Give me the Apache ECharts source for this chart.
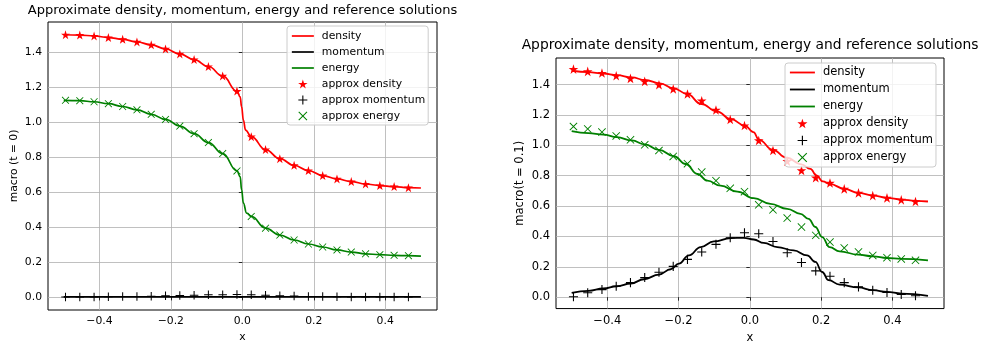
<!DOCTYPE html>
<html><head><meta charset="utf-8">
<script src="https://cdn.jsdelivr.net/npm/echarts@6/dist/echarts.min.js"></script>
<style>html,body{margin:0;padding:0;background:#fff}#c{width:986px;height:349px}</style>
</head><body><div id="c"></div>
<script>
// ---------- data ----------
const titleText = 'Approximate density, momentum, energy and reference solutions';
const xTicks = [-0.4, -0.2, 0.0, 0.2, 0.4];
const yTicks = [0.0, 0.2, 0.4, 0.6, 0.8, 1.0, 1.2, 1.4];
const legendNames = ['density', 'momentum', 'energy', 'approx density', 'approx momentum', 'approx energy'];

// marker positions (both panels)
const markerX = [-0.495,-0.455,-0.415,-0.375,-0.335,-0.295,-0.255,-0.215,-0.175,-0.135,-0.095,-0.055,-0.015,0.025,0.065,0.105,0.145,0.185,0.225,0.265,0.305,0.345,0.385,0.425,0.465];

// left panel (t = 0)
const leftDensApprox = [1.502,1.500,1.495,1.486,1.476,1.461,1.444,1.421,1.392,1.360,1.320,1.266,1.179,0.918,0.844,0.792,0.754,0.724,0.695,0.676,0.661,0.647,0.638,0.632,0.626];
const leftMomApprox  = [0.000,0.000,0.000,0.001,0.002,0.003,0.004,0.006,0.008,0.010,0.012,0.013,0.014,0.013,0.010,0.007,0.005,0.003,0.002,0.001,0.000,0.000,0.000,0.000,0.000];
const leftEnerApprox = [1.126,1.124,1.118,1.107,1.091,1.072,1.046,1.017,0.979,0.935,0.884,0.821,0.722,0.461,0.394,0.354,0.326,0.303,0.286,0.269,0.257,0.247,0.242,0.238,0.236];

const leftDensLineX = [-0.5,-0.455,-0.415,-0.375,-0.335,-0.295,-0.255,-0.215,-0.175,-0.135,-0.095,-0.055,-0.015,-0.006,-0.002,0.003,0.009,0.025,0.065,0.105,0.145,0.185,0.225,0.265,0.305,0.345,0.385,0.425,0.465,0.5];
const leftDensLineY = [1.502,1.500,1.495,1.486,1.476,1.461,1.444,1.421,1.392,1.360,1.320,1.266,1.179,1.146,1.089,1.013,0.956,0.918,0.844,0.792,0.754,0.724,0.695,0.676,0.661,0.647,0.638,0.632,0.626,0.624];
const leftMomLineX = [-0.5, 0.5];
const leftMomLineY = [0.0, 0.0];
const leftEnerLineX = [-0.5,-0.455,-0.415,-0.375,-0.335,-0.295,-0.255,-0.215,-0.175,-0.135,-0.095,-0.055,-0.015,-0.006,-0.002,0.003,0.012,0.025,0.065,0.105,0.145,0.185,0.225,0.265,0.305,0.345,0.385,0.425,0.465,0.5];
const leftEnerLineY = [1.126,1.124,1.118,1.107,1.091,1.072,1.046,1.017,0.979,0.935,0.884,0.821,0.722,0.689,0.613,0.537,0.480,0.461,0.394,0.354,0.326,0.303,0.286,0.269,0.257,0.247,0.242,0.238,0.236,0.234];

// right panel (t = 0.1)
const rightDensApprox = [1.502,1.487,1.476,1.458,1.441,1.421,1.399,1.371,1.338,1.294,1.233,1.170,1.130,1.032,0.966,0.896,0.835,0.787,0.752,0.713,0.687,0.669,0.654,0.641,0.630];
const rightMomApprox  = [0.003,0.029,0.050,0.072,0.096,0.129,0.164,0.203,0.249,0.298,0.348,0.391,0.424,0.418,0.367,0.293,0.228,0.173,0.138,0.096,0.068,0.046,0.031,0.018,0.009];
const rightEnerApprox = [1.124,1.108,1.087,1.062,1.036,1.003,0.966,0.927,0.879,0.824,0.767,0.717,0.695,0.608,0.575,0.521,0.462,0.407,0.363,0.324,0.298,0.275,0.260,0.252,0.243];

const rightDensLineX = [-0.5,-0.453,-0.411,-0.373,-0.331,-0.294,-0.252,-0.215,-0.177,-0.136,-0.093,-0.053,-0.014,0.010,0.026,0.064,0.103,0.145,0.170,0.187,0.205,0.224,0.266,0.304,0.346,0.385,0.425,0.465,0.5];
const rightDensLineY = [1.491,1.482,1.473,1.462,1.447,1.430,1.408,1.377,1.340,1.272,1.224,1.172,1.130,1.087,1.036,0.971,0.918,0.875,0.845,0.802,0.762,0.746,0.713,0.687,0.669,0.654,0.643,0.634,0.630];
const rightMomLineX = [-0.5,-0.453,-0.411,-0.373,-0.334,-0.297,-0.255,-0.222,-0.199,-0.171,-0.138,-0.101,-0.054,-0.017,0.011,0.039,0.077,0.123,0.161,0.184,0.203,0.221,0.252,0.304,0.346,0.385,0.425,0.5];
const rightMomLineY = [0.029,0.042,0.057,0.072,0.090,0.118,0.149,0.184,0.221,0.275,0.330,0.367,0.389,0.391,0.380,0.357,0.330,0.308,0.275,0.232,0.166,0.112,0.083,0.064,0.046,0.035,0.024,0.009];
const rightEnerLineX = [-0.5,-0.453,-0.411,-0.373,-0.331,-0.294,-0.255,-0.213,-0.180,-0.147,-0.119,-0.082,-0.035,0.011,0.058,0.105,0.142,0.165,0.184,0.203,0.224,0.252,0.304,0.346,0.385,0.425,0.5];
const rightEnerLineY = [1.093,1.080,1.071,1.054,1.032,1.006,0.970,0.928,0.877,0.811,0.767,0.734,0.695,0.652,0.614,0.582,0.549,0.516,0.462,0.396,0.330,0.302,0.280,0.269,0.258,0.252,0.243];

// ---------- chart ----------
const FONT = 'DejaVu Sans';
const STAR = 'path://M50,0 L61.2,34.5 L97.6,34.5 L68.2,55.9 L79.4,90.5 L50,69.1 L20.6,90.5 L31.8,55.9 L2.4,34.5 L38.8,34.5 Z';
const PLUS = 'path://M4.4,0 H5.6 V4.4 H10 V5.6 H5.6 V10 H4.4 V5.6 H0 V4.4 H4.4 Z';
const CROSS = 'path://M0,0.8 L0.8,0 L5,4.2 L9.2,0 L10,0.8 L5.8,5 L10,9.2 L9.2,10 L5,5.8 L0.8,10 L0,9.2 L4.2,5 Z';
const colors = {density: '#ff0000', momentum: '#000000', energy: '#008000'};
const fmt = v => (Math.abs(v) < 1e-9 ? 0 : v).toFixed(1).replace('-', '\u2212');
const zip = (xs, ys) => xs.map((x, i) => [x, ys[i]]);

const panels = [
  {grid: {left: 48, top: 22, width: 389, height: 288}, s: 1, ylabel: 'macro (t = 0)', titleMid: 11,
   legend: {left: 287, top: 26, itemWidth: 22, lh: 16, pad: [2, 3, 1, 4]},
   dens: [leftDensLineX, leftDensLineY], mom: [leftMomLineX, leftMomLineY], ener: [leftEnerLineX, leftEnerLineY],
   dA: leftDensApprox, mA: leftMomApprox, eA: leftEnerApprox},
  {grid: {left: 556, top: 58, width: 388, height: 252}, s: 1.065, ylabel: 'macro(t = 0.1)', titleMid: 46,
   legend: {left: 785, top: 63, itemWidth: 25, lh: 17, pad: [1, 3, 1, 4]},
   dens: [rightDensLineX, rightDensLineY], mom: [rightMomLineX, rightMomLineY], ener: [rightEnerLineX, rightEnerLineY],
   dA: rightDensApprox, mA: rightMomApprox, eA: rightEnerApprox}
];

const option = {animation: false, backgroundColor: '#fff', textStyle: {fontFamily: FONT},
  title: [], grid: [], xAxis: [], yAxis: [], series: [], legend: []};

panels.forEach((p, i) => {
  const s = p.s;
  const tf = 13 * s, lf = 10.8 * s;
  option.grid.push(Object.assign({show: true, borderColor: '#000', borderWidth: 1, backgroundColor: 'transparent', containLabel: false}, p.grid));
  option.title.push({text: titleText, left: p.grid.left + p.grid.width / 2, textAlign: 'center', top: p.titleMid - tf * 0.55, padding: 0,
    textStyle: {fontFamily: FONT, fontSize: tf, fontWeight: 'normal', color: '#000'}});
  option.xAxis.push({type: 'value', gridIndex: i, min: -0.544, max: 0.545,
    axisLine: {show: false},
    axisTick: {show: true, customValues: xTicks, length: 3.5, lineStyle: {color: '#000', width: 0.8}},
    axisLabel: {customValues: xTicks, formatter: fmt, fontSize: lf, color: '#000', margin: 6, fontFamily: FONT},
    splitLine: {show: true, lineStyle: {color: '#b0b0b0', width: 0.8}},
    name: 'x', nameLocation: 'middle', nameGap: 22 * s, nameTextStyle: {fontSize: lf, color: '#000', fontFamily: FONT}});
  option.yAxis.push({type: 'value', gridIndex: i, min: -0.075, max: 1.575,
    axisLine: {show: false},
    axisTick: {show: true, customValues: yTicks, length: 3.5, lineStyle: {color: '#000', width: 0.8}},
    axisLabel: {customValues: yTicks, formatter: fmt, fontSize: lf, color: '#000', margin: 6, fontFamily: FONT},
    splitLine: {show: true, lineStyle: {color: '#b0b0b0', width: 0.8}},
    name: p.ylabel, nameLocation: 'middle', nameGap: 28.5 * s, nameTextStyle: {fontSize: lf, color: '#000', fontFamily: FONT}});
  const lineS = (name, d) => ({name, type: 'line', xAxisIndex: i, yAxisIndex: i, data: zip(d[0], d[1]),
    symbol: 'none', smooth: 0.45, smoothMonotone: 'x', lineStyle: {color: colors[name], width: 1.7 * s}, itemStyle: {color: colors[name]}, z: 2});
  const scatS = (name, key, ys, sym, size) => ({name, type: 'scatter', xAxisIndex: i, yAxisIndex: i, data: zip(markerX, ys),
    symbol: sym, symbolSize: size * s, itemStyle: {color: colors[key], opacity: 1}, z: 3});
  option.series.push(lineS('density', p.dens), lineS('momentum', p.mom), lineS('energy', p.ener),
    scatS('approx density', 'density', p.dA, STAR, 9),
    scatS('approx momentum', 'momentum', p.mA, PLUS, 8.5),
    scatS('approx energy', 'energy', p.eA, CROSS, 7.5));
  const legendData = legendNames.map((n, k) => k < 3
    ? {name: n, itemStyle: {opacity: 0}, lineStyle: {width: 1.7 * s}}
    : {name: n});
  option.legend.push({orient: 'vertical', left: p.legend.left, top: p.legend.top, data: legendData,
    itemWidth: p.legend.itemWidth, itemHeight: 9 * s, itemGap: 0, padding: p.legend.pad,
    backgroundColor: 'rgba(255,255,255,0.8)', borderColor: '#cccccc', borderWidth: 1, borderRadius: 3,
    selectedMode: false, inactiveColor: '#000',
    textStyle: {fontFamily: FONT, fontSize: lf, color: '#000', lineHeight: p.legend.lh, padding: [0, 0, 0, 3]}});
});

const chart = echarts.init(document.getElementById('c'), null, {renderer: 'canvas'});
chart.setOption(option);
</script></body></html>
